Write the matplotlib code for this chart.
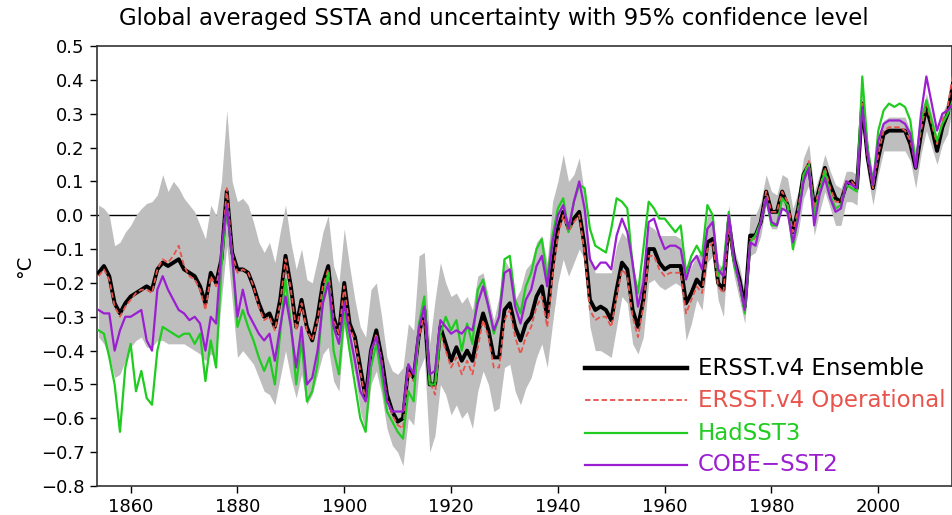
import matplotlib
matplotlib.use("Agg")
import matplotlib.pyplot as plt
import numpy as np
from matplotlib.ticker import FuncFormatter

# =============================================================================
    # Data (annual values, 1854-2014)
# =============================================================================
years = list(range(1854, 2015))

ensemble = [
    -0.17, -0.15, -0.18, -0.26, -0.29, -0.26, -0.24, -0.23, -0.22, -0.21,
    -0.22, -0.16, -0.14, -0.15, -0.14, -0.13, -0.16, -0.17, -0.18, -0.21,
    -0.26, -0.17, -0.20, -0.13, 0.07, -0.11, -0.16, -0.16, -0.17, -0.21,
    -0.26, -0.30, -0.29, -0.33, -0.25, -0.12, -0.21, -0.33, -0.25, -0.33,
    -0.37, -0.30, -0.20, -0.15, -0.30, -0.35, -0.20, -0.32, -0.36, -0.45,
    -0.54, -0.40, -0.34, -0.42, -0.53, -0.58, -0.61, -0.60, -0.45, -0.48,
    -0.35, -0.28, -0.50, -0.50, -0.33, -0.38, -0.43, -0.39, -0.43, -0.40,
    -0.43, -0.35, -0.29, -0.34, -0.42, -0.42, -0.28, -0.26, -0.33, -0.37,
    -0.32, -0.30, -0.24, -0.21, -0.30, -0.15, -0.04, 0.01, -0.04, -0.01,
    0.01, -0.09, -0.25, -0.28, -0.27, -0.28, -0.31, -0.22, -0.14, -0.16,
    -0.28, -0.33, -0.25, -0.10, -0.10, -0.14, -0.16, -0.15, -0.15, -0.15,
    -0.26, -0.23, -0.19, -0.21, -0.08, -0.07, -0.20, -0.22, -0.02, -0.13,
    -0.19, -0.27, -0.06, -0.06, -0.02, 0.07, 0.01, 0.01, 0.07, 0.03,
    -0.05, 0.02, 0.12, 0.15, 0.02, 0.08, 0.14, 0.09, 0.05, 0.04,
    0.09, 0.10, 0.08, 0.33, 0.17, 0.08, 0.17, 0.24, 0.25, 0.25,
    0.25, 0.25, 0.21, 0.14, 0.24, 0.32, 0.26, 0.19, 0.26, 0.30,
    0.39,
]

operational = [
    -0.18, -0.16, -0.19, -0.27, -0.30, -0.27, -0.25, -0.23, -0.22, -0.22,
    -0.23, -0.16, -0.13, -0.14, -0.12, -0.09, -0.15, -0.18, -0.19, -0.22,
    -0.28, -0.18, -0.21, -0.13, 0.08, -0.11, -0.17, -0.16, -0.17, -0.21,
    -0.27, -0.31, -0.30, -0.34, -0.26, -0.13, -0.22, -0.34, -0.26, -0.34,
    -0.37, -0.31, -0.21, -0.16, -0.31, -0.35, -0.21, -0.33, -0.37, -0.46,
    -0.55, -0.41, -0.35, -0.43, -0.54, -0.59, -0.62, -0.63, -0.46, -0.49,
    -0.36, -0.29, -0.49, -0.53, -0.35, -0.40, -0.45, -0.42, -0.47, -0.43,
    -0.47, -0.39, -0.31, -0.36, -0.45, -0.45, -0.31, -0.28, -0.36, -0.41,
    -0.36, -0.33, -0.27, -0.24, -0.33, -0.18, -0.06, 0.00, -0.05, -0.02,
    0.00, -0.11, -0.28, -0.31, -0.30, -0.30, -0.33, -0.24, -0.16, -0.18,
    -0.30, -0.36, -0.27, -0.12, -0.12, -0.16, -0.18, -0.17, -0.17, -0.17,
    -0.29, -0.25, -0.21, -0.23, -0.10, -0.08, -0.21, -0.23, -0.03, -0.14,
    -0.20, -0.28, -0.07, -0.07, -0.02, 0.07, 0.01, 0.01, 0.07, 0.04,
    -0.05, 0.02, 0.12, 0.16, 0.02, 0.08, 0.14, 0.08, 0.04, 0.04,
    0.10, 0.10, 0.08, 0.33, 0.17, 0.08, 0.18, 0.25, 0.26, 0.26,
    0.26, 0.25, 0.22, 0.15, 0.25, 0.33, 0.27, 0.21, 0.28, 0.32,
    0.42,
]

hadsst3 = [
    -0.34, -0.35, -0.42, -0.50, -0.64, -0.45, -0.38, -0.52, -0.46, -0.54,
    -0.56, -0.40, -0.33, -0.34, -0.35, -0.36, -0.35, -0.35, -0.38, -0.35,
    -0.49, -0.37, -0.45, -0.15, 0.03, -0.12, -0.33, -0.28, -0.33, -0.37,
    -0.42, -0.46, -0.42, -0.50, -0.35, -0.19, -0.32, -0.50, -0.37, -0.55,
    -0.52, -0.44, -0.25, -0.17, -0.40, -0.47, -0.29, -0.40, -0.50, -0.60,
    -0.64, -0.45, -0.38, -0.48, -0.58, -0.61, -0.64, -0.66, -0.52, -0.55,
    -0.32, -0.24, -0.50, -0.50, -0.35, -0.30, -0.34, -0.31, -0.40, -0.32,
    -0.38, -0.22, -0.19, -0.27, -0.35, -0.30, -0.13, -0.12, -0.25, -0.29,
    -0.21, -0.17, -0.10, -0.07, -0.19, -0.06, 0.02, 0.05, -0.05, 0.04,
    0.09, 0.08, -0.04, -0.09, -0.10, -0.11, -0.04, 0.05, 0.04, 0.02,
    -0.15, -0.23, -0.10, 0.04, 0.02, -0.01, -0.01, -0.03, -0.05, -0.03,
    -0.17, -0.12, -0.09, -0.12, 0.03, 0.00, -0.18, -0.15, 0.01, -0.15,
    -0.20, -0.29, -0.08, -0.06, -0.02, 0.05, -0.03, -0.03, 0.05, 0.03,
    -0.10, 0.00, 0.12, 0.15, 0.00, 0.07, 0.13, 0.06, 0.02, 0.03,
    0.09, 0.08, 0.07, 0.41, 0.20, 0.09, 0.25, 0.31, 0.33, 0.32,
    0.33, 0.32, 0.28, 0.15, 0.28, 0.34, 0.28, 0.22, 0.27, 0.30,
    0.34,
]

cobe_sst2 = [
    -0.28, -0.29, -0.29, -0.40, -0.34, -0.30, -0.30, -0.29, -0.28, -0.37,
    -0.40, -0.22, -0.18, -0.22, -0.25, -0.28, -0.29, -0.31, -0.30, -0.32,
    -0.40, -0.30, -0.32, -0.10, 0.03, -0.12, -0.30, -0.22, -0.29, -0.32,
    -0.35, -0.37, -0.35, -0.43, -0.33, -0.24, -0.33, -0.45, -0.33, -0.50,
    -0.48, -0.40, -0.26, -0.20, -0.33, -0.38, -0.26, -0.35, -0.43, -0.52,
    -0.55, -0.40, -0.36, -0.44, -0.55, -0.58, -0.58, -0.58, -0.44, -0.47,
    -0.33, -0.27, -0.47, -0.46, -0.31, -0.33, -0.35, -0.34, -0.35, -0.33,
    -0.34, -0.26, -0.21, -0.27, -0.34, -0.30, -0.17, -0.16, -0.27, -0.32,
    -0.25, -0.22, -0.15, -0.12, -0.21, -0.08, 0.00, 0.03, -0.04, 0.04,
    0.10, 0.02, -0.13, -0.16, -0.14, -0.14, -0.16, -0.06, -0.01, -0.05,
    -0.14, -0.27, -0.20, -0.02, -0.01, -0.06, -0.10, -0.09, -0.09, -0.10,
    -0.19, -0.14, -0.12, -0.16, -0.04, -0.02, -0.16, -0.18, 0.00, -0.13,
    -0.20, -0.28, -0.08, -0.09, -0.02, 0.05, -0.02, -0.03, 0.02, 0.01,
    -0.08, -0.01, 0.10, 0.14, -0.03, 0.06, 0.11, 0.05, 0.01, 0.02,
    0.10, 0.09, 0.08, 0.32, 0.18, 0.09, 0.22, 0.27, 0.28, 0.28,
    0.28, 0.27, 0.24, 0.14, 0.30, 0.41, 0.33, 0.25, 0.30, 0.31,
    0.33,
]

# 95% confidence band of the ensemble
band_upper = [
    0.03, 0.02, 0.00, -0.09, -0.08, -0.05, -0.03, 0.00, 0.02, 0.035,
    0.04, 0.06, 0.12, 0.07, 0.10, 0.08, 0.05, 0.03, 0.01, -0.03,
    -0.07, 0.03, 0.00, 0.10, 0.31, 0.10, 0.04, 0.05, 0.03, -0.02,
    -0.08, -0.11, -0.08, -0.14, -0.05, 0.03, -0.08, -0.16, -0.10, -0.19,
    -0.20, -0.13, -0.05, 0.00, -0.15, -0.20, -0.04, -0.15, -0.25, -0.33,
    -0.36, -0.22, -0.20, -0.30, -0.42, -0.46, -0.47, -0.45, -0.32, -0.34,
    -0.12, -0.11, -0.38, -0.25, -0.14, -0.20, -0.24, -0.23, -0.26, -0.24,
    -0.28, -0.18, -0.17, -0.24, -0.31, -0.24, -0.13, -0.16, -0.25, -0.22,
    -0.16, -0.14, -0.08, -0.06, -0.14, 0.04, 0.10, 0.18, 0.10, 0.12,
    0.17, 0.06, -0.12, -0.17, -0.17, -0.17, -0.17, -0.09, -0.05, -0.07,
    -0.16, -0.22, -0.15, -0.03, -0.04, -0.06, -0.06, -0.06, -0.06, -0.07,
    -0.19, -0.15, -0.12, -0.11, 0.00, 0.00, -0.14, -0.16, 0.03, -0.10,
    -0.15, -0.23, 0.00, 0.00, 0.04, 0.12, 0.07, 0.06, 0.12, 0.11,
    0.02, 0.07, 0.17, 0.21, 0.07, 0.12, 0.18, 0.13, 0.09, 0.08,
    0.13, 0.13, 0.12, 0.37, 0.21, 0.12, 0.22, 0.28, 0.29, 0.29,
    0.29, 0.29, 0.25, 0.19, 0.28, 0.36, 0.30, 0.23, 0.30, 0.34,
    0.43,
]

band_lower = [
    -0.36, -0.38, -0.42, -0.48, -0.47, -0.43, -0.39, -0.37, -0.36, -0.39,
    -0.39, -0.37, -0.37, -0.38, -0.38, -0.38, -0.38, -0.39, -0.40, -0.41,
    -0.43, -0.41, -0.42, -0.25, -0.09, -0.25, -0.42, -0.40, -0.42, -0.44,
    -0.48, -0.52, -0.53, -0.56, -0.48, -0.40, -0.48, -0.54, -0.47, -0.56,
    -0.53, -0.47, -0.41, -0.39, -0.49, -0.52, -0.33, -0.42, -0.47, -0.58,
    -0.64, -0.50, -0.46, -0.53, -0.63, -0.68, -0.70, -0.74, -0.60, -0.62,
    -0.46, -0.42, -0.70, -0.65, -0.50, -0.53, -0.59, -0.56, -0.60, -0.58,
    -0.63, -0.52, -0.46, -0.50, -0.58, -0.57, -0.45, -0.44, -0.52, -0.56,
    -0.51, -0.48, -0.42, -0.38, -0.45, -0.32, -0.20, -0.13, -0.18, -0.14,
    -0.10, -0.13, -0.33, -0.40, -0.40, -0.41, -0.42, -0.33, -0.24, -0.26,
    -0.38, -0.41, -0.36, -0.20, -0.19, -0.21, -0.22, -0.21, -0.20, -0.21,
    -0.37, -0.32, -0.25, -0.28, -0.14, -0.12, -0.25, -0.30, -0.07, -0.18,
    -0.25, -0.32, -0.12, -0.11, -0.06, 0.03, -0.04, -0.04, 0.03, -0.01,
    -0.11, -0.05, 0.05, 0.09, -0.06, 0.01, 0.07, 0.02, -0.03, -0.03,
    0.04, 0.04, 0.03, 0.27, 0.12, 0.03, 0.12, 0.19, 0.19, 0.19,
    0.19, 0.19, 0.16, 0.08, 0.18, 0.25, 0.20, 0.15, 0.21, 0.24,
    0.33,
]

labels = ["ERSST.v4 Ensemble", "ERSST.v4 Operational", "HadSST3", "COBE\u2212SST2"]
colors = ["black", "#e8544c", "#1fcc1f", "#9b1fd0"]

# =============================================================================
    # Plot
# =============================================================================
fig = plt.figure(figsize=(9.53, 5.15), dpi=100)
ax = fig.add_axes([97 / 953, 29 / 515, 855 / 953, 440 / 515])

ax.axhline(0, color="black", lw=1.0, zorder=1)
ax.fill_between(years, band_lower, band_upper, color="#bebebe", lw=0, zorder=2)

ax.plot(years, ensemble, color=colors[0], lw=2.8, zorder=3)
ax.plot(years, operational, color=colors[1], lw=1.3, ls=(0, (3, 1.6)), zorder=4)
ax.plot(years, hadsst3, color=colors[2], lw=1.6, zorder=5)
ax.plot(years, cobe_sst2, color=colors[3], lw=1.6, zorder=6)

ax.set_xlim(1853.7, 2013.8)
ax.set_ylim(-0.8, 0.5)
ax.set_xticks([1860, 1880, 1900, 1920, 1940, 1960, 1980, 2000])
ax.set_yticks(np.arange(-8, 6) / 10)
ax.yaxis.set_major_formatter(FuncFormatter(lambda v, p: f"{v:.1f}".replace("-", "\u2212")))
ax.tick_params(direction="out", length=5, width=1, labelsize=13, pad=4,
               top=False, right=False)
for s in ax.spines.values():
    s.set_linewidth(1.2)
    s.set_color("#333333")

# legend drawn by hand, lower right
rows_y = [0.268, 0.195, 0.120, 0.048]
styles = [dict(lw=3.2), dict(lw=1.3, ls=(0, (3, 1.6))), dict(lw=1.6), dict(lw=1.6)]
for lab, col, yy, st in zip(labels, colors, rows_y, styles):
    ax.plot([0.571, 0.690], [yy, yy], color=col, transform=ax.transAxes, zorder=7, **st)
    ax.text(0.703, yy, lab, color=col, fontsize=16.5, va="center", ha="left",
            transform=ax.transAxes, zorder=7)

fig.text(0.518, 0.965, "Global averaged SSTA and uncertainty with 95% confidence level",
         fontsize=16.5, ha="center", va="center")
fig.text(25 / 953, 1 - 266 / 515, "\u00b0C", rotation=90, fontsize=14,
         ha="center", va="center")

plt.savefig("out.png", dpi=100)
